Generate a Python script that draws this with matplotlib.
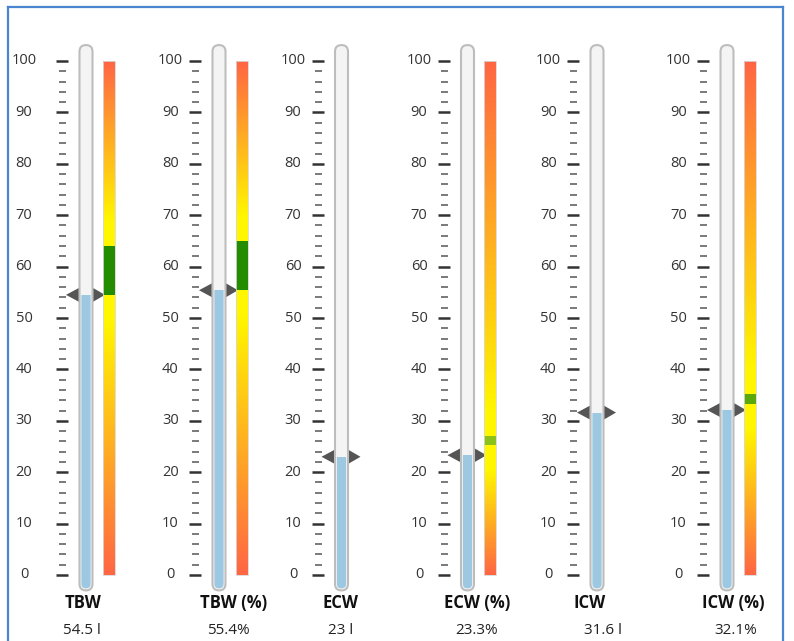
import matplotlib
matplotlib.use("Agg")
import matplotlib.pyplot as plt
import numpy as np
from matplotlib.patches import FancyBboxPatch, Rectangle, Polygon
from matplotlib.lines import Line2D

plt.rcParams['font.family'] = ['Open Sans', 'DejaVu Sans']

# data
names = ["TBW", "TBW (%)", "ECW", "ECW (%)", "ICW", "ICW (%)"]
values = [54.5, 55.4, 23, 23.3, 31.6, 32.1]
value_labels = ["54.5 l", "55.4%", "23 l", "23.3%", "31.6 l", "32.1%"]
range_low = [54.5, 55.4, None, 25.3, None, 33.3]
range_high = [64.0, 65.0, None, 27.0, None, 35.2]
range_colors = ["#238c00", "#238c00", None, "#8cc11a", None, "#5aa80a"]
major_ticks = list(range(0, 101, 10))
minor_ticks = [v for v in range(0, 101, 2) if v % 10]

# layout (pixels)
tube_x = [86, 219, 341.5, 467.5, 597, 727]
label_dx = [-62, -48.5, -48.5, -48.5, -48.5, -48.5]
title_x = [83, 234, 341, 477, 590, 733]
val_x = [82, 228, 341, 477, 603, 736]

W, H = 794, 641
k = 5.14          # pixels per unit
y0 = 575          # pixel row of value 0

fig = plt.figure(figsize=(W / 100, H / 100), dpi=100)
ax = fig.add_axes([0, 0, 1, 1])
ax.set_axis_off()

red = np.array([255, 102, 68]) / 255
yellow = np.array([255, 246, 0]) / 255
blue = "#9cc8e2"

for i, name in enumerate(names):
    tc = tube_x[i]
    v = values[i]

    # ticks + labels
    ax.hlines(major_ticks, tc - 30, tc - 18, color="#333333", lw=1.8, zorder=2)
    ax.hlines(minor_ticks, tc - 27, tc - 20, color="#7a7a7a", lw=1.4, zorder=2)
    for t in major_ticks:
        ax.text(tc + label_dx[i], t, str(t), ha="center", va="center",
                fontsize=10.5, color="#333333")

    # pointer: two triangles on each side of the tube
    hh = 7.5 / k
    ax.add_patch(Polygon([(tc - 20, v), (tc - 6, v + hh), (tc - 6, v - hh)],
                         closed=True, color="#555555", zorder=2, lw=0))
    ax.add_patch(Polygon([(tc + 19, v), (tc + 6, v + hh), (tc + 6, v - hh)],
                         closed=True, color="#555555", zorder=2, lw=0))

    # tube
    ax.add_patch(FancyBboxPatch((tc - 6.5, -3.0), 13, 106.1,
                                boxstyle="round,pad=0,rounding_size=6.5",
                                mutation_aspect=1 / k, facecolor="#f4f4f4",
                                edgecolor="#bdbdbd", lw=1.5, zorder=3))
    fill = FancyBboxPatch((tc - 4.6, -2.6), 9.2, 105,
                          boxstyle="round,pad=0,rounding_size=4.6",
                          mutation_aspect=1 / k, facecolor=blue,
                          edgecolor="none", zorder=4)
    ax.add_patch(fill)
    clip = Rectangle((tc - 10, -6), 20, v + 6, transform=ax.transData)
    fill.set_clip_path(clip)

    # colour scale bar
    if range_low[i] is not None:
        lo, hi = range_low[i], range_high[i]
        yy = np.linspace(0, 100, 400)
        nodes = [0, max(lo - 5, 1), min(hi + 5, 99), 100]
        rgb = np.stack([np.interp(yy, nodes, [red[c], yellow[c], yellow[c], red[c]])
                        for c in range(3)], axis=-1)
        img = np.repeat(rgb[:, None, :], 2, axis=1)
        ax.imshow(img, extent=(tc + 16.5, tc + 28.5, 0, 100), origin="lower",
                  aspect="auto", interpolation="bilinear", zorder=2)
        ax.add_patch(Rectangle((tc + 16.5, lo), 12, hi - lo,
                               color=range_colors[i], lw=0, zorder=3))
        ax.add_patch(Rectangle((tc + 16.5, 0), 12, 100, fill=False,
                               edgecolor="#d8d8d8", lw=0.6, zorder=3))

    # titles
    ax.text(title_x[i], -(603 - y0) / k, name, ha="center", va="center",
            fontsize=12, fontweight="bold", color="#111111")
    ax.text(val_x[i], -(630 - y0) / k, value_labels[i], ha="center", va="center",
            fontsize=11, color="#222222")

ax.set_xlim(0, W)
ax.set_ylim(-(H - y0) / k, y0 / k)

# frame border
for xs, ys in [((8, 8), (7, H)), ((8, 783), (7, 7)), ((783, 783), (7, H))]:
    fig.add_artist(Line2D([x / W for x in xs], [1 - y / H for y in ys],
                          color="#4a86cf", lw=1.6))

fig.savefig("out.png", dpi=100)
